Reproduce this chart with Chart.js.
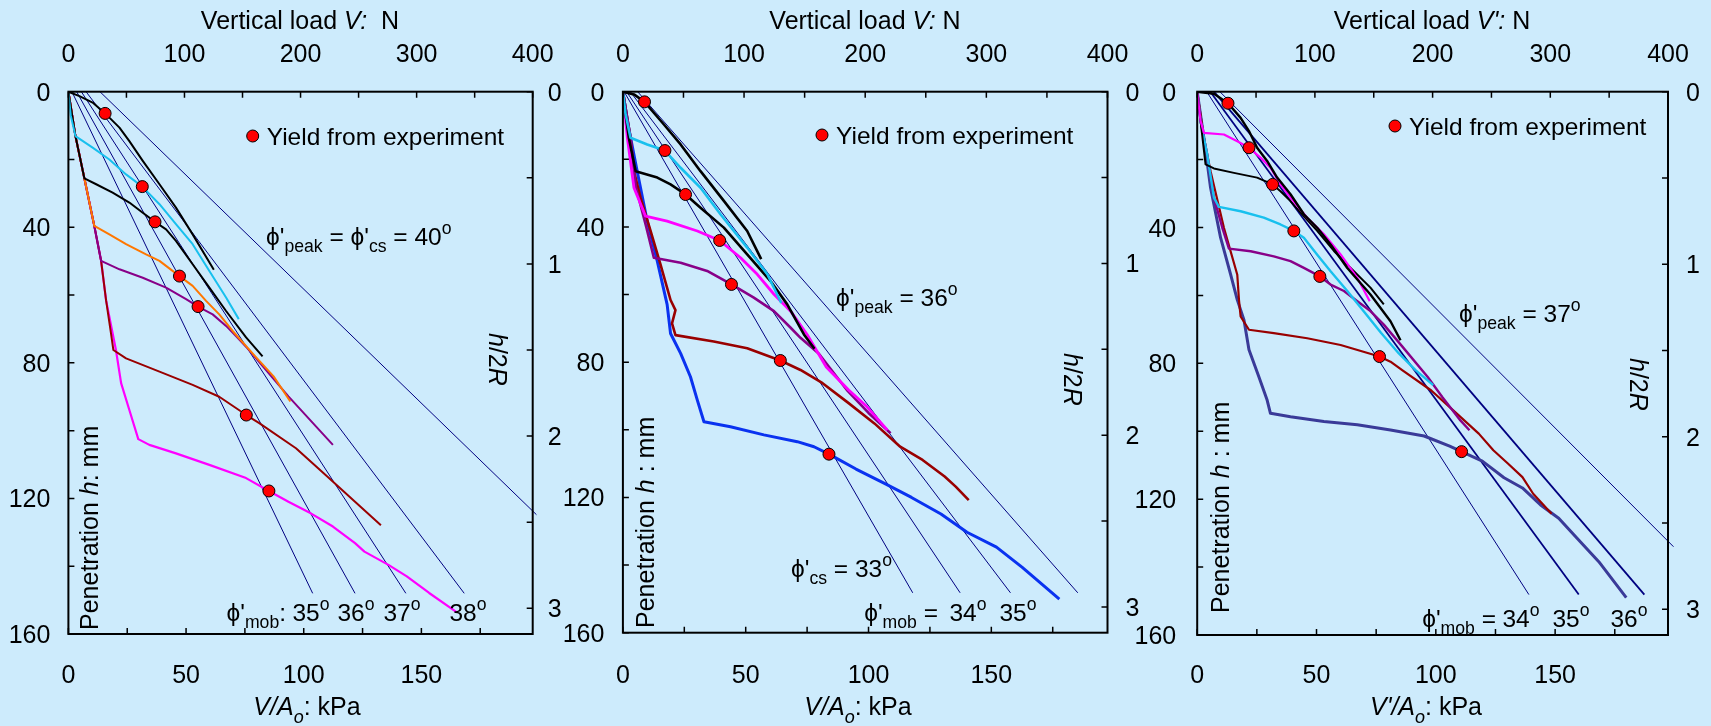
<!DOCTYPE html>
<html>
<head>
<meta charset="utf-8">
<script src="https://cdn.jsdelivr.net/npm/chart.js@4.4.0/dist/chart.umd.min.js"></script>
<style>
  html, body { margin: 0; padding: 0; background: #cdebfc; }
  body { width: 1711px; height: 726px; position: relative; overflow: hidden; }
  canvas { position: absolute; left: 0; top: 0; }
</style>
</head>
<body>
<canvas id="c1" width="1711" height="726"></canvas>
<canvas id="c2" width="1711" height="726"></canvas>
<canvas id="c3" width="1711" height="726"></canvas>
<script>
/* three penetration charts: V/Ao (kPa) against h (mm), top axis V (N), right axis h/2R */

const KPA_MAX = 197.3;          // 400 N over Ao
const HR_MAX  = 160 / 50.8;     // h/2R at 160 mm

// tick values + labels
const kpaTicks   = [0, 25, 50, 75, 100, 125, 150, 175];
const kpaLabels  = ['0', '', '50', '', '100', '', '150', ''];
const loadTicks  = [0, 50, 100, 150, 200, 250, 300, 350, 400];
const loadLabels = ['0', '', '100', '', '200', '', '300', '', '400'];
const penTicks   = [0, 20, 40, 60, 80, 100, 120, 140, 160];
const penLabels  = ['0', '', '40', '', '80', '', '120', '', '160'];
const hrTicks    = [0, 0.5, 1, 1.5, 2, 2.5, 3];
const hrLabels   = ['0', '', '1', '', '2', '', '3'];

// ── panel 1 : phi'peak = phi'cs = 40 ──  [kPa, mm]
const p1Black1  = [[0,0],[4.7,1.3],[10.3,3.2],[15.6,6.4],[21.7,10.6],[25.9,14.6],[31.6,20.4],[38.7,27.3],[45.7,34.2],[52.8,42.1],[61.8,52.5]];
const p1Cyan    = [[0,0],[1.0,7.0],[3.0,13.1],[10.3,16.5],[17.4,20.0],[24.5,24.4],[31.4,28.0],[38.7,33.2],[45.7,39.1],[52.8,45.0],[59.9,52.9],[67.0,60.7],[72.4,67.1]];
const p1Black2  = [[0,0],[3.0,13.1],[6.8,25.6],[11.8,27.3],[18.8,29.8],[25.9,32.7],[31.6,35.7],[36.8,38.4],[41.5,40.6],[45.7,44.0],[52.8,50.9],[59.9,57.8],[67.0,64.7],[75.5,72.5],[82.5,78.1]];
const p1Orange  = [[0,0],[3.0,13.1],[6.8,25.6],[11.0,39.6],[17.4,42.1],[24.5,45.0],[33.0,48.0],[38.7,49.9],[47.2,54.4],[52.8,57.3],[58.5,61.7],[64.1,65.7],[69.8,70.6],[79.4,78.1],[87.2,84.0],[94.3,91.4]];
const p1Purple  = [[0,0],[3.0,13.1],[6.8,25.6],[11.0,39.6],[13.9,49.9],[21.7,52.4],[31.6,54.9],[41.5,57.8],[50.0,61.2],[55.1,63.4],[61.3,65.7],[67.0,69.1],[71.2,72.1],[76.2,75.8],[93.5,89.9],[112.4,104.2]];
const p1Maroon  = [[0,0],[3.0,13.1],[6.8,25.6],[11.0,39.6],[13.9,49.9],[16.0,61.5],[18.1,71.3],[19.1,76.2],[24.5,78.7],[38.7,82.6],[52.8,86.5],[64.1,90.0],[75.6,95.4],[81.1,97.8],[96.7,105.2],[109.3,113.1],[121.8,121.0],[132.8,127.9]];
const p1Magenta = [[0,0],[3.0,13.1],[6.8,25.6],[11.0,39.6],[13.9,49.9],[16.0,61.5],[20.2,76.2],[22.4,86.0],[25.9,93.9],[29.7,102.5],[34.4,104.2],[45.7,106.7],[59.9,110.1],[75.5,114.0],[85.2,117.8],[93.5,121.0],[103.0,124.4],[112.4,128.3],[121.8,133.2],[125.8,135.7],[136.0,139.6],[143.8,143.0],[153.3,147.9],[165.1,153.6]];
const p1Yield   = [[15.6,6.4],[31.4,28.0],[36.8,38.4],[47.2,54.4],[55.1,63.4],[75.6,95.4],[85.2,117.8]];
const p1FanStart = [1.5, 3.5, 5.5, 7.5, 13.4];
const p1FanEndX  = [103.8, 121.8, 143.4, 168.2, 198.9];
const p1FanEndY  = [148, 148, 148, 148, 124.8];

// ── panel 2 : phi'peak = 36, phi'cs = 33 ──
const p2Black1  = [[0,0],[4.5,0.8],[8.8,3.0],[16.7,9.7],[23.5,15.6],[31.6,23.5],[41.1,32.3],[50.6,41.2],[56.3,49.5]];
const p2Cyan    = [[0,0],[1.1,6.7],[3.1,13.6],[9.9,15.6],[17.1,17.4],[23.5,22.5],[31.6,28.4],[39.8,36.3],[50.6,46.1],[58.8,54.0],[64.5,62.5]];
const p2Black2  = [[0,0],[1.1,6.7],[2.4,13.6],[5.2,23.5],[14.0,25.4],[19.4,27.4],[25.5,30.4],[31.6,34.3],[41.1,40.2],[50.6,48.1],[60.1,56.0],[66.9,62.9],[73.7,71.8],[78.0,76.0]];
const p2Magenta = [[0,0],[1.8,13.6],[4.5,28.4],[9.2,36.8],[18.0,38.3],[30.3,41.2],[39.4,44.0],[47.9,49.1],[54.7,54.0],[61.5,59.9],[68.3,64.9],[75.0,71.8],[82.8,81.4],[91.9,88.2],[99.4,93.2],[107.7,100.1]];
const p2Purple  = [[0,0],[3.1,13.6],[5.2,28.0],[9.5,40.0],[12.6,49.1],[23.5,50.6],[34.3,53.0],[44.2,57.0],[53.3,60.9],[61.5,64.9],[68.3,69.8],[72.3,72.8],[79.8,77.5],[91.5,88.5],[100.0,95.0],[109.0,101.0]];
const p2Maroon  = [[0,0],[3.1,13.6],[4.5,23.5],[7.2,31.4],[11.3,41.2],[15.3,51.1],[18.0,58.0],[19.4,61.6],[21.4,64.6],[20.0,68.5],[21.4,72.0],[37.0,73.9],[50.6,75.9],[64.1,79.5],[72.3,82.3],[81.3,86.2],[91.9,92.1],[102.4,98.1],[112.9,105.0],[122.0,108.9],[131.0,113.8],[135.5,116.8],[140.8,120.8]];
const p2Blue    = [[0,0],[1.8,8.7],[5.8,23.5],[9.9,38.3],[14.0,50.1],[18.0,62.9],[19.4,71.5],[23.5,77.4],[27.5,84.3],[30.3,91.2],[33.0,97.6],[43.8,99.1],[57.4,101.5],[71.0,103.5],[77.8,105.0],[83.9,107.2],[94.9,111.6],[106.9,116.0],[117.5,120.0],[129.5,124.9],[140.1,130.3],[152.1,134.7],[162.6,140.7],[177.7,150.1]];
const p2Yield   = [[8.8,3.0],[17.1,17.4],[25.5,30.4],[39.4,44.0],[44.2,57.0],[64.1,79.5],[83.9,107.2]];
const p2FanStart = [0.5, 1.5, 3.0, 6.0];
const p2FanEndX  = [118.0, 137.3, 157.8, 185.2];
const p2FanEndY  = [148.2, 148.2, 148.2, 148.2];

// ── panel 3 : phi'peak = 37 ──
const p3Black1  = [[0,0],[7.0,0.6],[12.9,3.4],[18.2,7.7],[21.7,11.6],[25.1,16.5],[29.3,20.4],[33.5,25.3],[39.1,30.2],[44.7,36.1],[50.3,40.1],[55.9,45.0],[62.9,51.9],[72.6,59.7],[81.0,67.6],[85.2,73.2]];
const p3Magenta = [[0,0],[1.4,8.6],[2.8,12.1],[11.2,12.6],[16.8,14.6],[21.7,16.5],[26.5,19.4],[30.7,22.4],[34.9,27.3],[39.1,31.2],[46.1,37.1],[53.1,42.0],[60.1,47.9],[67.1,54.8],[72.3,61.7]];
const p3Black2  = [[0,0],[1.4,8.6],[3.5,21.4],[7.0,22.6],[15.4,23.9],[25.1,25.3],[31.6,27.3],[34.9,29.3],[39.1,32.2],[43.3,35.6],[50.3,41.0],[57.3,46.9],[64.3,51.9],[72.6,57.7],[78.2,62.6]];
const p3Cyan    = [[0,0],[1.4,8.6],[4.2,18.5],[7.0,31.2],[9.1,33.9],[18.2,35.2],[27.9,37.1],[34.9,39.1],[40.5,41.0],[44.7,43.0],[50.3,48.0],[55.9,52.9],[62.9,58.7],[70.7,65.5],[77.0,71.0],[84.4,77.0],[91.5,82.0],[98.9,86.4]];
const p3Purple  = [[0,0],[1.4,8.6],[4.2,18.5],[7.0,31.2],[10.5,40.0],[13.3,46.2],[22.4,47.0],[32.1,48.5],[39.1,49.9],[44.7,51.9],[51.4,54.4],[55.9,56.8],[61.5,58.7],[67.1,61.7],[72.6,64.6],[78.2,68.6],[85.9,75.0],[96.6,84.0],[102.7,89.9],[110.3,96.8],[114.1,99.7]];
const p3Maroon  = [[0,0],[2.8,13.6],[5.6,23.4],[11.2,40.1],[16.8,53.9],[17.5,61.3],[18.2,66.2],[21.7,70.1],[32.1,71.1],[46.1,72.6],[60.1,74.6],[76.4,78.0],[81.0,79.5],[85.9,82.0],[98.1,88.0],[108.8,94.8],[118.0,100.7],[124.1,105.6],[130.2,109.5],[136.3,113.5],[140.8,118.4],[148.5,124.3]];
const p3Navy    = [[0,0],[2.8,13.6],[5.6,28.3],[9.8,43.0],[14.0,53.8],[16.8,61.3],[19.6,67.2],[21.7,76.0],[25.8,83.9],[29.3,90.8],[30.7,94.7],[39.1,95.7],[53.1,97.1],[67.1,98.1],[81.0,99.6],[95.1,101.4],[105.8,104.4],[110.8,106.0],[119.5,108.8],[128.6,113.7],[136.3,116.7],[143.9,121.7],[151.5,125.6],[159.2,131.5],[168.3,138.4],[179.8,149.0]];
const p3Yield   = [[12.9,3.4],[21.7,16.5],[31.6,27.3],[40.5,41.0],[51.4,54.4],[76.4,78.0],[110.8,106.0]];
const p3FanStart = [4.0, 5.5, 7.0, 9.5];
const p3FanEndX  = [139.0, 159.9, 187.4, 199.6];
const p3FanEndY  = [148.1, 148.1, 148.1, 134.0];

const FONT = "'Liberation Sans', Arial, Helvetica, 'DejaVu Sans', sans-serif";
const PHI  = '\u03D5';

// parts: [text, style]  style chars: i = italic, _ = subscript, ^ = superscript
function rich(ctx, parts, x, y, size, align) {
    const segs = parts.map(([t, s = '']) => {
        const small = s.includes('_') || s.includes('^');
        const fs    = small ? size * 0.72 : size;
        const font  = (s.includes('i') ? 'italic ' : '') + fs + 'px ' + FONT;
        ctx.font = font;
        const dy = s.includes('_') ? size * 0.3 : s.includes('^') ? -size * 0.45 : 0;
        return { t, font, dy, w: ctx.measureText(t).width };
    });
    const total = segs.reduce((a, s) => a + s.w, 0);
    let cx = align === 'center' ? x - total / 2 : align === 'right' ? x - total : x;
    ctx.textAlign = 'left';
    ctx.textBaseline = 'alphabetic';
    segs.forEach(s => { ctx.font = s.font; ctx.fillText(s.t, cx, y + s.dy); cx += s.w; });
}

function framePlugin(p) {
    return {
        id: 'frame' + p.id,
        afterDatasetsDraw(chart) {
            const { ctx, chartArea: a, scales } = chart;
            ctx.save();
            ctx.fillStyle = '#000';
            ctx.strokeStyle = '#000';

            // inward ticks
            ctx.lineWidth = 1.5;
            ctx.beginPath();
            kpaTicks.forEach(v => { const x = scales.x.getPixelForValue(v);  ctx.moveTo(x, a.bottom); ctx.lineTo(x, a.bottom - 6); });
            loadTicks.forEach(v => { const x = scales.x2.getPixelForValue(v); ctx.moveTo(x, a.top);    ctx.lineTo(x, a.top + 6); });
            penTicks.forEach(v => { const y = scales.y.getPixelForValue(v);   ctx.moveTo(a.left, y);   ctx.lineTo(a.left + 6, y); });
            hrTicks.forEach(v => { const y = scales.y2.getPixelForValue(v);   ctx.moveTo(a.right, y);  ctx.lineTo(a.right - 6, y); });
            ctx.stroke();

            ctx.lineWidth = 2;
            ctx.strokeRect(a.left, a.top, a.right - a.left, a.bottom - a.top);

            // tick labels
            ctx.font = '25px ' + FONT;
            ctx.textBaseline = 'alphabetic';
            ctx.textAlign = 'center';
            kpaTicks.forEach((v, i) => ctx.fillText(kpaLabels[i], scales.x.getPixelForValue(v), 683));
            loadTicks.forEach((v, i) => ctx.fillText(loadLabels[i], scales.x2.getPixelForValue(v), 62));
            ctx.textAlign = 'right';
            penTicks.forEach((v, i) => ctx.fillText(penLabels[i], a.left - p.padL, scales.y.getPixelForValue(v) + 9));
            ctx.textAlign = 'left';
            hrTicks.forEach((v, i) => ctx.fillText(hrLabels[i], a.right + p.padR, scales.y2.getPixelForValue(v) + 9));

            // axis titles
            rich(ctx, p.topTitle, p.topX, 28.5, 25, 'center');
            rich(ctx, p.botTitle, p.botX, 715, 25, 'center');

            ctx.save();
            ctx.translate(p.leftT[0], p.leftT[1]);
            ctx.rotate(-Math.PI / 2);
            rich(ctx, p.leftTitle, 0, 0, 25, 'left');
            ctx.restore();

            ctx.save();
            ctx.translate(p.rightT[0], p.rightT[1]);
            ctx.rotate(Math.PI / 2);
            rich(ctx, [['h', 'i'], ['/2', ''], ['R', 'i']], 0, 0, 25, 'left');
            ctx.restore();

            // legend
            ctx.beginPath();
            ctx.arc(p.legend[0], p.legend[1], 6, 0, Math.PI * 2);
            ctx.fillStyle = '#ff0000';
            ctx.fill();
            ctx.lineWidth = 1;
            ctx.stroke();
            ctx.fillStyle = '#000';
            rich(ctx, [['Yield from experiment', '']], p.legend[0] + 14, p.legend[1] + 9, 24.5, 'left');

            // phi annotations
            p.notes.forEach(n => rich(ctx, n.parts, n.x, n.y, 24.5, n.align || 'left'));
            ctx.restore();
        }
    };
}

function deg(v) { return [[String(v), ''], ['o', '^']]; }

const panels = [
    {
        id: 'c1', box: [68.4, 91.7, 532.7, 634], padL: 18, padR: 15,
        curves: [
            { pts: p1Black1,  color: '#000000', w: 2 },
            { pts: p1Cyan,    color: '#18c0ee', w: 2 },
            { pts: p1Black2,  color: '#000000', w: 2 },
            { pts: p1Orange,  color: '#ff7700', w: 2 },
            { pts: p1Purple,  color: '#880088', w: 2 },
            { pts: p1Maroon,  color: '#990000', w: 2 },
            { pts: p1Magenta, color: '#ff00ff', w: 2.2 }
        ],
        dots: p1Yield, fanStart: p1FanStart, fanEndX: p1FanEndX, fanEndY: p1FanEndY, fanW: [1, 1, 1, 1, 1],
        topTitle: [['Vertical load ', ''], ['V:', 'i'], ['  N', '']], topX: 300,
        botTitle: [['V/A', 'i'], ['o', 'i_'], [': kPa', '']], botX: 307,
        leftTitle: [['Penetration ', ''], ['h', 'i'], [': mm', '']], leftT: [98, 630],
        rightT: [489, 333],
        legend: [252.7, 136],
        notes: [
            { parts: [[PHI + "'", ''], ['peak', '_'], [' = ' + PHI + "'", ''], ['cs', '_'], [' = 40', ''], ['o', '^']], x: 266, y: 245 },
            { parts: [[PHI + "'", ''], ['mob', '_'], [':', '']], x: 286, y: 621, align: 'right' },
            { parts: deg(35), x: 311, y: 621, align: 'center' },
            { parts: deg(36), x: 356, y: 621, align: 'center' },
            { parts: deg(37), x: 402, y: 621, align: 'center' },
            { parts: deg(38), x: 468, y: 621, align: 'center' }
        ]
    },
    {
        id: 'c2', box: [622.9, 91.7, 1107.5, 632.7], padL: 18.5, padR: 18,
        curves: [
            { pts: p2Black1,  color: '#000000', w: 2.6 },
            { pts: p2Cyan,    color: '#18c0ee', w: 2.6 },
            { pts: p2Black2,  color: '#000000', w: 2.6 },
            { pts: p2Magenta, color: '#ff00ff', w: 2.8 },
            { pts: p2Purple,  color: '#880088', w: 2.6 },
            { pts: p2Maroon,  color: '#990000', w: 2.6 },
            { pts: p2Blue,    color: '#0a32f0', w: 3 }
        ],
        dots: p2Yield, fanStart: p2FanStart, fanEndX: p2FanEndX, fanEndY: p2FanEndY, fanW: [1, 1, 1, 1],
        topTitle: [['Vertical load ', ''], ['V:', 'i'], [' N', '']], topX: 865,
        botTitle: [['V/A', 'i'], ['o', 'i_'], [': kPa', '']], botX: 858,
        leftTitle: [['Penetration ', ''], ['h', 'i'], [' : mm', '']], leftT: [654, 628],
        rightT: [1063.5, 353],
        legend: [822, 135],
        notes: [
            { parts: [[PHI + "'", ''], ['peak', '_'], [' = 36', ''], ['o', '^']], x: 836, y: 306 },
            { parts: [[PHI + "'", ''], ['cs', '_'], [' = 33', ''], ['o', '^']], x: 791, y: 577 },
            { parts: [[PHI + "'", ''], ['mob', '_'], [' =', '']], x: 938, y: 621, align: 'right' },
            { parts: deg(34), x: 968, y: 621, align: 'center' },
            { parts: deg(35), x: 1018, y: 621, align: 'center' }
        ]
    },
    {
        id: 'c3', box: [1197.2, 91.7, 1668, 635], padL: 21, padR: 18,
        curves: [
            { pts: p3Black1,  color: '#000000', w: 2.4 },
            { pts: p3Magenta, color: '#ff00ff', w: 2.2 },
            { pts: p3Black2,  color: '#000000', w: 2 },
            { pts: p3Cyan,    color: '#18c0ee', w: 2.4 },
            { pts: p3Purple,  color: '#880088', w: 2.4 },
            { pts: p3Maroon,  color: '#990000', w: 2.2 },
            { pts: p3Navy,    color: '#3a3a98', w: 3 }
        ],
        dots: p3Yield, fanStart: p3FanStart, fanEndX: p3FanEndX, fanEndY: p3FanEndY, fanW: [1, 1.8, 1.8, 1],
        topTitle: [['Vertical load ', ''], ["V':", 'i'], [' N', '']], topX: 1432,
        botTitle: [["V'/A", 'i'], ['o', 'i_'], [': kPa', '']], botX: 1426,
        leftTitle: [['Penetration ', ''], ['h', 'i'], [' : mm', '']], leftT: [1229, 613],
        rightT: [1630, 358],
        legend: [1395, 126],
        notes: [
            { parts: [[PHI + "'", ''], ['peak', '_'], [' = 37', ''], ['o', '^']], x: 1459, y: 322 },
            { parts: [[PHI + "'", ''], ['mob', '_'], [' =', '']], x: 1496, y: 627, align: 'right' },
            { parts: deg(34), x: 1521, y: 627, align: 'center' },
            { parts: deg(35), x: 1571, y: 627, align: 'center' },
            { parts: deg(36), x: 1629, y: 627, align: 'center' }
        ]
    }
];

function axis(position, min, max, reverse, fit) {
    return {
        type: 'linear', position, min, max, reverse,
        axis: (position === 'top' || position === 'bottom') ? 'x' : 'y',
        ticks: { display: false },
        grid: { display: false },
        border: { display: false },
        afterFit: fit
    };
}

function makeChart(p) {
    const [L, T, R, B] = p.box;
    const toXY = pts => pts.map(([x, y]) => ({ x, y }));

    const dotSet = {
        data: toXY(p.dots), showLine: false, order: 0,
        pointRadius: 6, pointBackgroundColor: '#ff0000', pointBorderColor: '#000', pointBorderWidth: 1
    };
    const curveSets = p.curves.map(c => ({
        data: toXY(c.pts), showLine: true, order: 1, pointRadius: 0,
        borderColor: c.color, borderWidth: c.w, borderJoinStyle: 'round', tension: 0
    }));
    const fanSets = p.fanStart.map((s, i) => ({
        data: [{ x: s, y: 0 }, { x: p.fanEndX[i], y: p.fanEndY[i] }],
        showLine: true, order: 2, pointRadius: 0, clip: false,
        borderColor: '#000080', borderWidth: p.fanW[i]
    }));

    return new Chart(document.getElementById(p.id), {
        type: 'scatter',
        data: { datasets: [dotSet, ...curveSets, ...fanSets] },
        options: {
            responsive: false,
            animation: false,
            events: [],
            layout: { padding: 0 },
            plugins: { legend: { display: false }, tooltip: { enabled: false } },
            scales: {
                x:  axis('bottom', 0, KPA_MAX, false, s => { s.height = 726 - B; }),
                x2: axis('top',    0, 400,     false, s => { s.height = T; }),
                y:  axis('left',   0, 160,     true,  s => { s.width = L; }),
                y2: axis('right',  0, HR_MAX,  true,  s => { s.width = 1711 - R; })
            }
        },
        plugins: [framePlugin(p)]
    });
}

panels.forEach(makeChart);
</script>
</body>
</html>
